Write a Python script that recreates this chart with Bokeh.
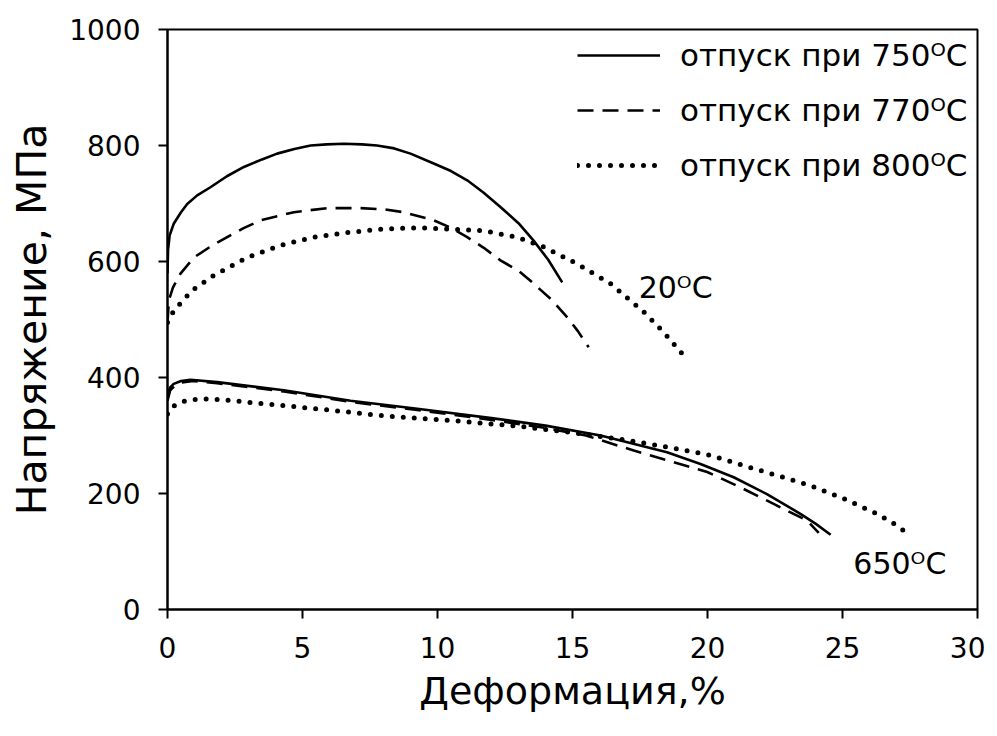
from bokeh.plotting import figure
from bokeh.models import FixedTicker, Legend, LegendItem, Range1d
from bokeh.core.properties import value
from bokeh.embed import file_html
from bokeh.resources import INLINE

FONT = "DejaVu Sans"

# ---- data (strain %, stress MPa) ----
x_ticks = [0, 5, 10, 15, 20, 25, 30]
y_ticks = [0, 200, 400, 600, 800, 1000]

labels = ["отпуск при 750ᴼC", "отпуск при 770ᴼC", "отпуск при 800ᴼC"]

# 20 C tests
eps_750_20 = [0, 0.02, 0.08, 0.23, 0.5, 0.73, 1.1, 1.59, 2.2, 2.83, 3.5, 4.06, 4.7, 5.3, 5.9,
              6.53, 7.2, 7.76, 8.4, 9.0, 9.86, 10.5, 11.1, 11.7, 12.33, 13.0, 13.56, 14.1, 14.62]
sig_750_20 = [580, 620, 645, 665, 685, 699, 714, 728, 747, 763, 776, 786, 794, 800, 802,
              803, 802, 800, 795, 786, 769, 756, 740, 719, 694, 666, 636, 603, 564]

eps_770_20 = [0, 0.05, 0.2, 0.48, 0.98, 1.6, 2.21, 2.8, 3.44, 4.68, 5.91, 7.15, 8.0, 8.75,
              9.86, 10.5, 11.1, 11.7, 12.33, 13.0, 13.56, 14.2, 14.8, 15.2, 15.6]
sig_770_20 = [495, 533, 555, 579, 607, 626, 642, 657, 671, 685, 692, 692, 690, 685,
              671, 658, 642, 624, 602, 584, 562, 535, 504, 480, 452]

eps_800_20 = [0, 0.23, 0.91, 1.71, 2.95, 4.19, 5.42, 6.65, 8.0, 9.25, 10.48, 11.7, 12.95,
              13.94, 15.17, 16.4, 17.64, 18.38, 19.06]
sig_800_20 = [495, 515, 550, 576, 607, 628, 642, 650, 656, 658, 656, 653, 642,
              625, 596, 562, 513, 478, 441]

# 650 C tests
eps_750_650 = [0, 0.1, 0.23, 0.5, 0.85, 1.84, 4.31, 6.78, 9.25, 12.0, 14.0, 16.04, 18.5,
               19.74, 20.97, 22.2, 23.44, 24.0, 24.56]
sig_750_650 = [372, 383, 389, 394, 396, 392, 378, 360, 346, 330, 317, 300, 271,
               251, 228, 199, 165, 148, 129]

eps_770_650 = [0, 0.1, 0.3, 0.6, 0.95, 1.84, 4.31, 6.78, 9.25, 12.0, 14.0, 15.5, 17.27,
               18.75, 19.99, 21.2, 22.45, 23.7, 24.12]
sig_770_650 = [360, 378, 387, 392, 394, 390, 376, 358, 344, 327, 313, 300, 274,
               254, 237, 211, 182, 153, 132]

eps_800_650 = [0, 0.15, 0.36, 0.7, 1.22, 2.0, 3.07, 5.54, 8.0, 10.48, 13.0, 15.0, 17.0,
               18.88, 20.1, 21.35, 22.58, 23.8, 25.05, 26.28, 26.9, 27.3]
sig_800_650 = [337, 348, 355, 360, 363, 362, 357, 346, 334, 326, 316, 305, 292,
               277, 266, 248, 231, 214, 191, 165, 148, 135]

ann_text = ["20ᴼC", "650ᴼC"]
ann_x = [17.45, 25.4]
ann_y = [555, 79]

# ---- figure ----
p = figure(frame_width=810, frame_height=580, output_backend="svg", toolbar_location=None,
           x_range=Range1d(0, 30), y_range=Range1d(0, 1000),
           min_border_left=167, min_border_top=29, min_border_right=8, min_border_bottom=110,
           background_fill_color="white", border_fill_color="white")
p.grid.visible = False
p.outline_line_color = "black"
p.outline_line_width = 2

for ax in (p.xaxis[0], p.yaxis[0]):
    ax.axis_line_width = 2
    ax.major_tick_line_width = 2
    ax.major_tick_out = 9
    ax.major_tick_in = 0
    ax.minor_tick_out = 0
    ax.minor_tick_in = 0
    ax.major_label_text_font = FONT
    ax.major_label_text_font_size = "28px"
    ax.major_label_text_color = "black"
    ax.axis_label_text_font = FONT
    ax.axis_label_text_font_style = "normal"
    ax.axis_label_text_color = "black"

p.xaxis.axis_label_text_font_size = "38px"
p.yaxis.axis_label_text_font_size = "41px"
p.xaxis.ticker = FixedTicker(ticks=x_ticks)
p.yaxis.ticker = FixedTicker(ticks=y_ticks)
p.xaxis.axis_label = "Деформация,%"
p.yaxis.axis_label = "Напряжение, МПа"
p.xaxis.major_label_standoff = 18
p.yaxis.major_label_standoff = 18
p.xaxis.axis_label_standoff = 8
p.yaxis.axis_label_standoff = 10

solid = dict(line_color="black", line_width=2.6)
dashed = dict(line_color="black", line_width=2.6, line_dash="16 9")
dotted = dict(line_color="black", line_width=5, line_dash="0 11", line_cap="round")

r1 = p.line(eps_750_20, sig_750_20, **solid)
r2 = p.line(eps_770_20, sig_770_20, **dashed)
r3 = p.line(eps_800_20, sig_800_20, **dotted)
p.line(eps_750_650, sig_750_650, **solid)
p.line(eps_770_650, sig_770_650, **dashed)
p.line(eps_800_650, sig_800_650, **dotted)

p.text(x=ann_x, y=ann_y, text=ann_text, text_font=value(FONT), text_font_size="30px",
       text_color="black", text_baseline="middle", text_align="left")

legend = Legend(items=[LegendItem(label=labels[0], renderers=[r1]),
                       LegendItem(label=labels[1], renderers=[r2]),
                       LegendItem(label=labels[2], renderers=[r3])],
                location=(410, 424), orientation="vertical",
                padding=0, margin=0, spacing=15,
                glyph_width=83, glyph_height=40, label_height=40, label_standoff=20,
                label_text_font=FONT, label_text_font_size="31px", label_text_color="black",
                label_text_baseline="middle",
                border_line_alpha=0, background_fill_alpha=0)
p.add_layout(legend, "center")

open("out.html", "w").write(file_html(p, INLINE))
